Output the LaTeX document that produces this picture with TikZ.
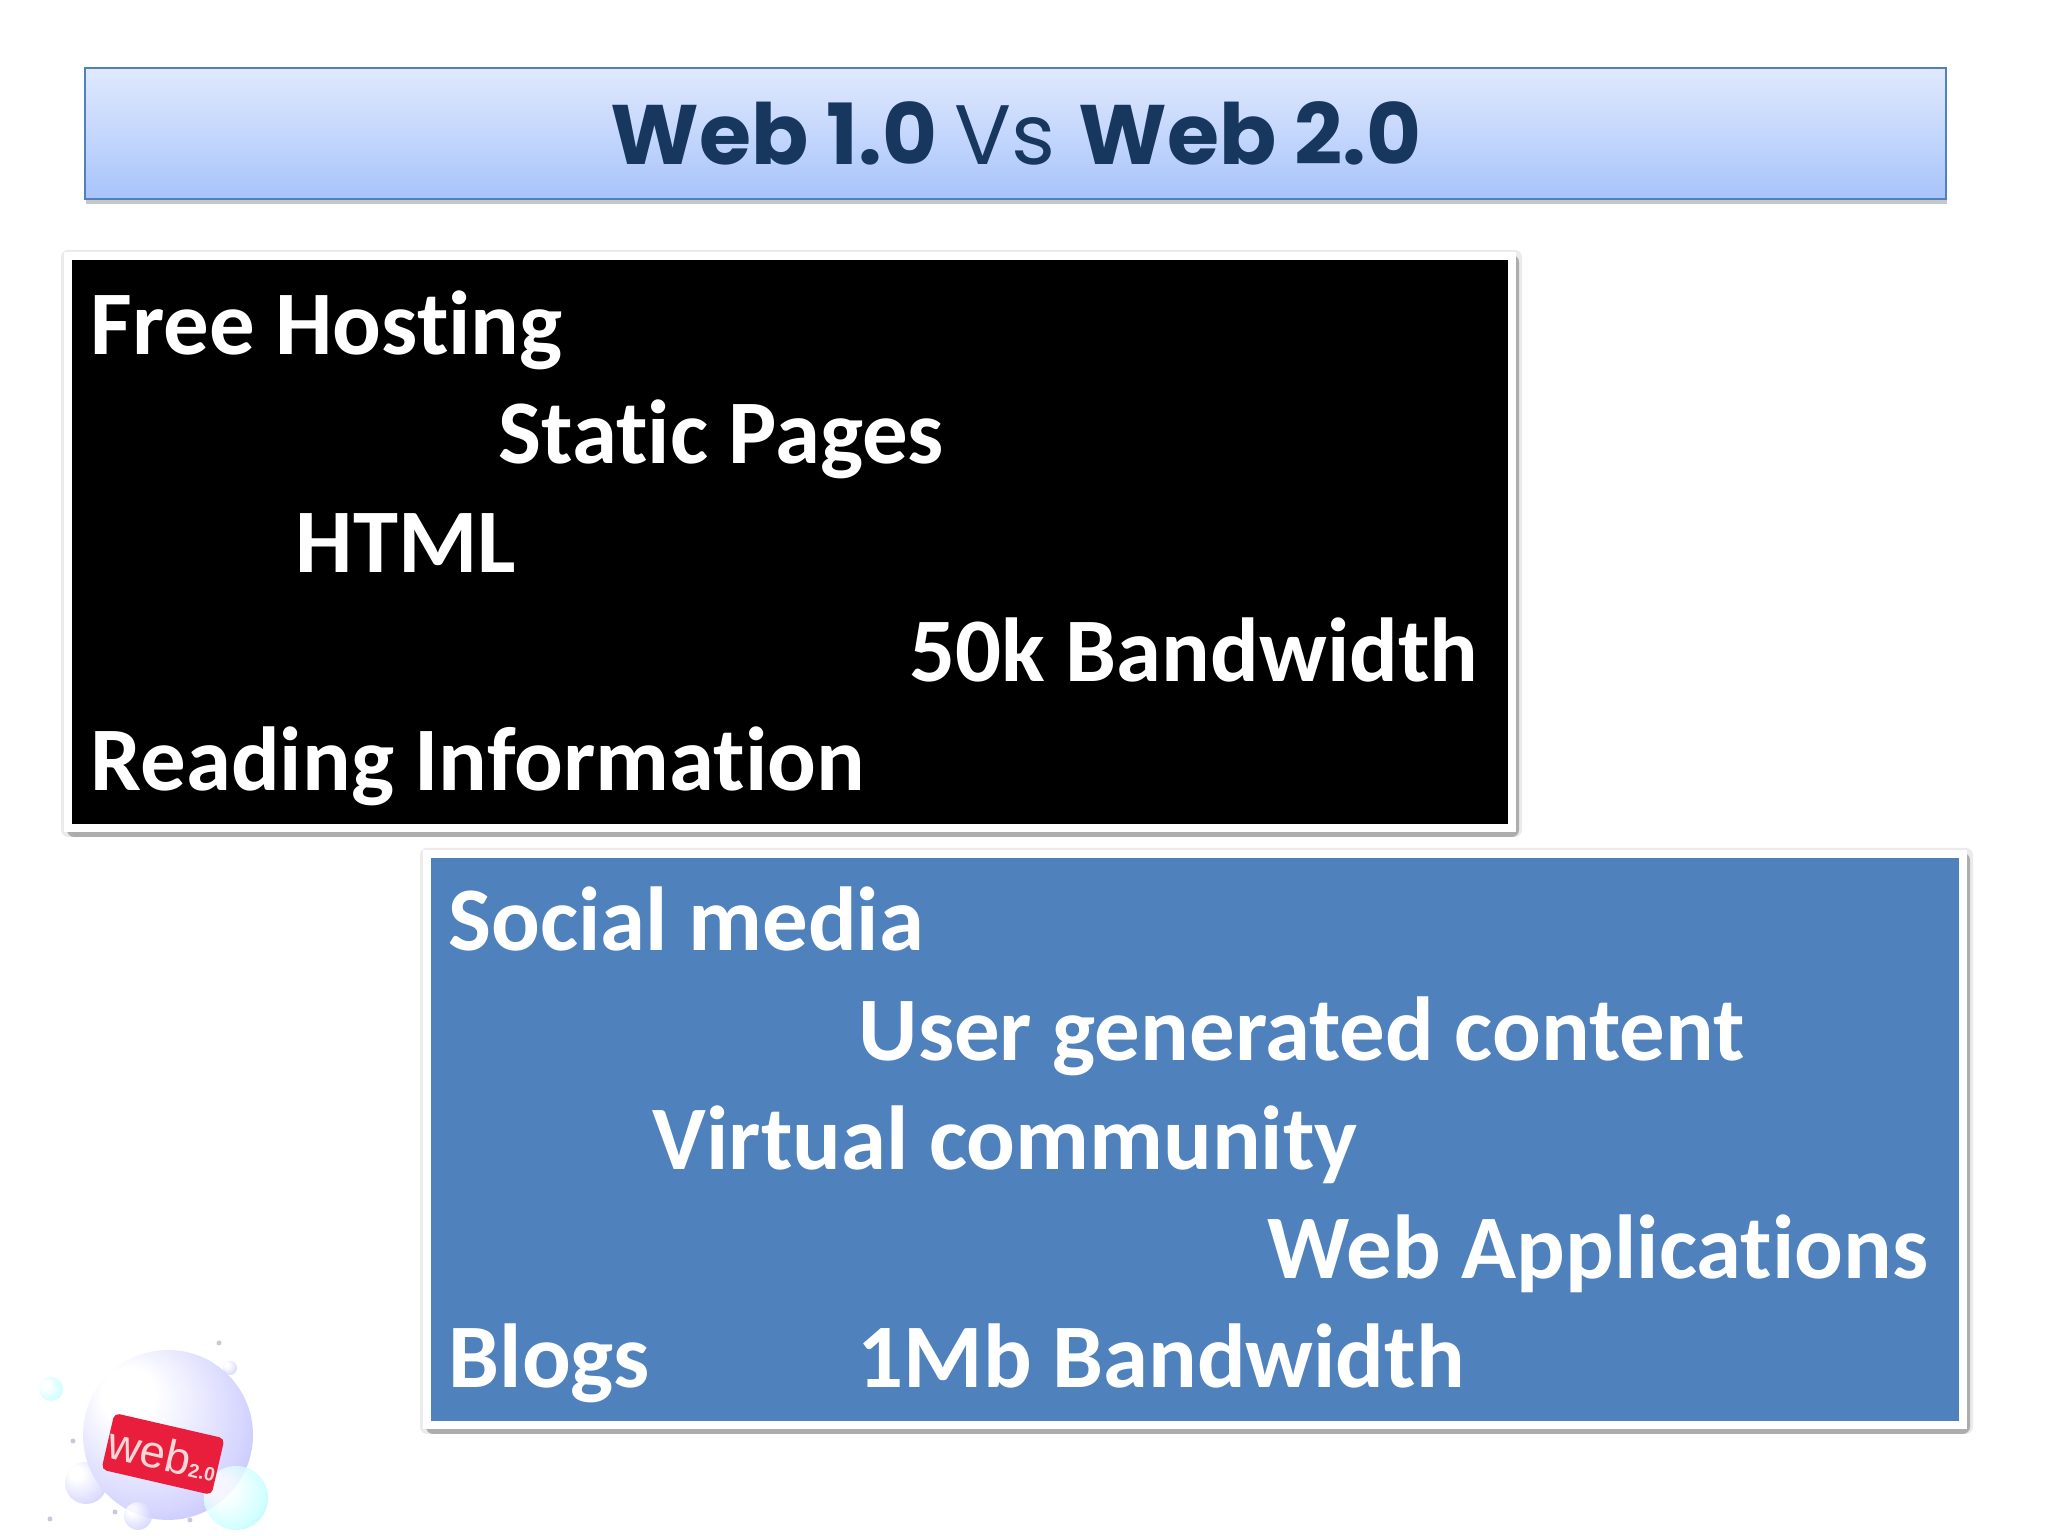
\documentclass[tikz,border=0pt]{standalone}
\usepackage{fontspec}
\setmainfont[Ligatures=CommonOff]{Carlito}
\newfontfamily\titlefont{Poppins}
\newfontfamily\logofont{Liberation Sans}
\definecolor{titleblue}{HTML}{17375E}
\definecolor{boxblue}{HTML}{4F81BD}
\definecolor{titletop}{HTML}{E0E9FD}
\definecolor{titlebottom}{HTML}{A8C4FB}
\definecolor{badgered}{HTML}{E81E3C}
\definecolor{badgetext}{HTML}{FCD7D7}
\pgfdeclareradialshading{bubblelilac}{\pgfpoint{-14bp}{14bp}}{color(0bp)=(white); color(8bp)=(white); color(28bp)=(blue!16!white); color(50bp)=(black!12!blue!38!white)}
\pgfdeclareradialshading{bubblecyan}{\pgfpoint{-14bp}{10bp}}{color(0bp)=(white); color(8bp)=(white); color(28bp)=(cyan!22!white); color(50bp)=(blue!30!cyan!60!white)}
\tikzset{
  item/.style={anchor=base west, inner sep=0pt, text=white, font=\fontsize{25.85}{30}\selectfont\bfseries},
  bubble/.style={shading=#1, opacity=.8}
}
\begin{document}
\begin{tikzpicture}
\useasboundingbox (0,0) rectangle (20.48,15.36);
\fill[white] (0,0) rectangle (20.48,15.36);

\fill[black!22] (0.86,13.32) rectangle (19.47,14.6);
\draw[draw=boxblue, line width=0.8pt, top color=titletop, bottom color=titlebottom]
  (0.85,13.37) rectangle (19.46,14.68);
\node[inner sep=0pt, text=titleblue, font=\titlefont\fontsize{24}{30}\selectfont] (title) at (10.16,14.03) {\bfseries Web 1.0 \mdseries Vs \bfseries Web 2.0};

% panels: halo, shadow, white border, fill
\foreach \xa/\ya/\xb/\yb/\col in {0.72/7.12/15.08/12.76/black, 4.31/1.15/19.59/6.78/boxblue}{
  \fill[black!8, rounded corners=2pt] (\xa-0.11,\ya-0.13) rectangle (\xb+0.14,\yb+0.10);
  \fill[black!32, rounded corners=2pt] (\xa-0.05,\ya-0.13) rectangle (\xb+0.11,\yb+0.05);
  \fill[white] (\xa-0.08,\ya-0.08) rectangle (\xb+0.08,\yb+0.08);
  \fill[\col] (\xa,\ya) rectangle (\xb,\yb);
}
\node[item] (free) at (0.90,11.81) {Free Hosting};
\node[item] (static) at (4.98,10.72) {Static Pages};
\node[item] (html) at (2.95,9.63) {HTML};
\node[item] (band1) at (9.09,8.54) {50k Bandwidth};
\node[item] (reading) at (0.90,7.45) {Reading Information};

\node[item] (social) at (4.48,5.85) {Social media};
\node[item] (user) at (8.58,4.75) {User generated content};
\node[item] (virtual) at (6.52,3.66) {Virtual community};
\node[item] (apps) at (12.67,2.57) {Web Applications};
\node[item] (blogs) at (4.48,1.48) {Blogs};
\node[item] (band2) at (8.57,1.48) {1Mb Bandwidth};

\shade[bubble=bubblecyan] (0.51,1.47) circle (.12);
\shade[bubble=bubblelilac] (2.30,1.68) circle (.07);
\shade[bubble=bubblelilac] (0.86,0.53) circle (.21);
\shade[shading=bubblelilac] (1.68,1.01) circle (.85);
\shade[bubble=bubblecyan] (2.36,0.38) circle (.32);
\shade[bubble=bubblelilac] (1.38,0.20) circle (.14);
\foreach \x/\y in {0.73/0.95, 2.19/1.93, 0.50/0.17, 1.15/0.24, 1.90/0.16}
  \fill[blue!20!gray!35!white] (\x,\y) circle (.025);
\node[rotate=-13, minimum width=1.13cm, minimum height=.58cm, inner sep=0pt, fill=badgered, rounded corners=1.5pt, text=badgetext, font=\logofont\fontsize{13}{13}\selectfont] (badge) at (1.63,0.82) {web{\fontsize{5.5}{6}\selectfont\bfseries 2.0}};
\end{tikzpicture}
\end{document}
